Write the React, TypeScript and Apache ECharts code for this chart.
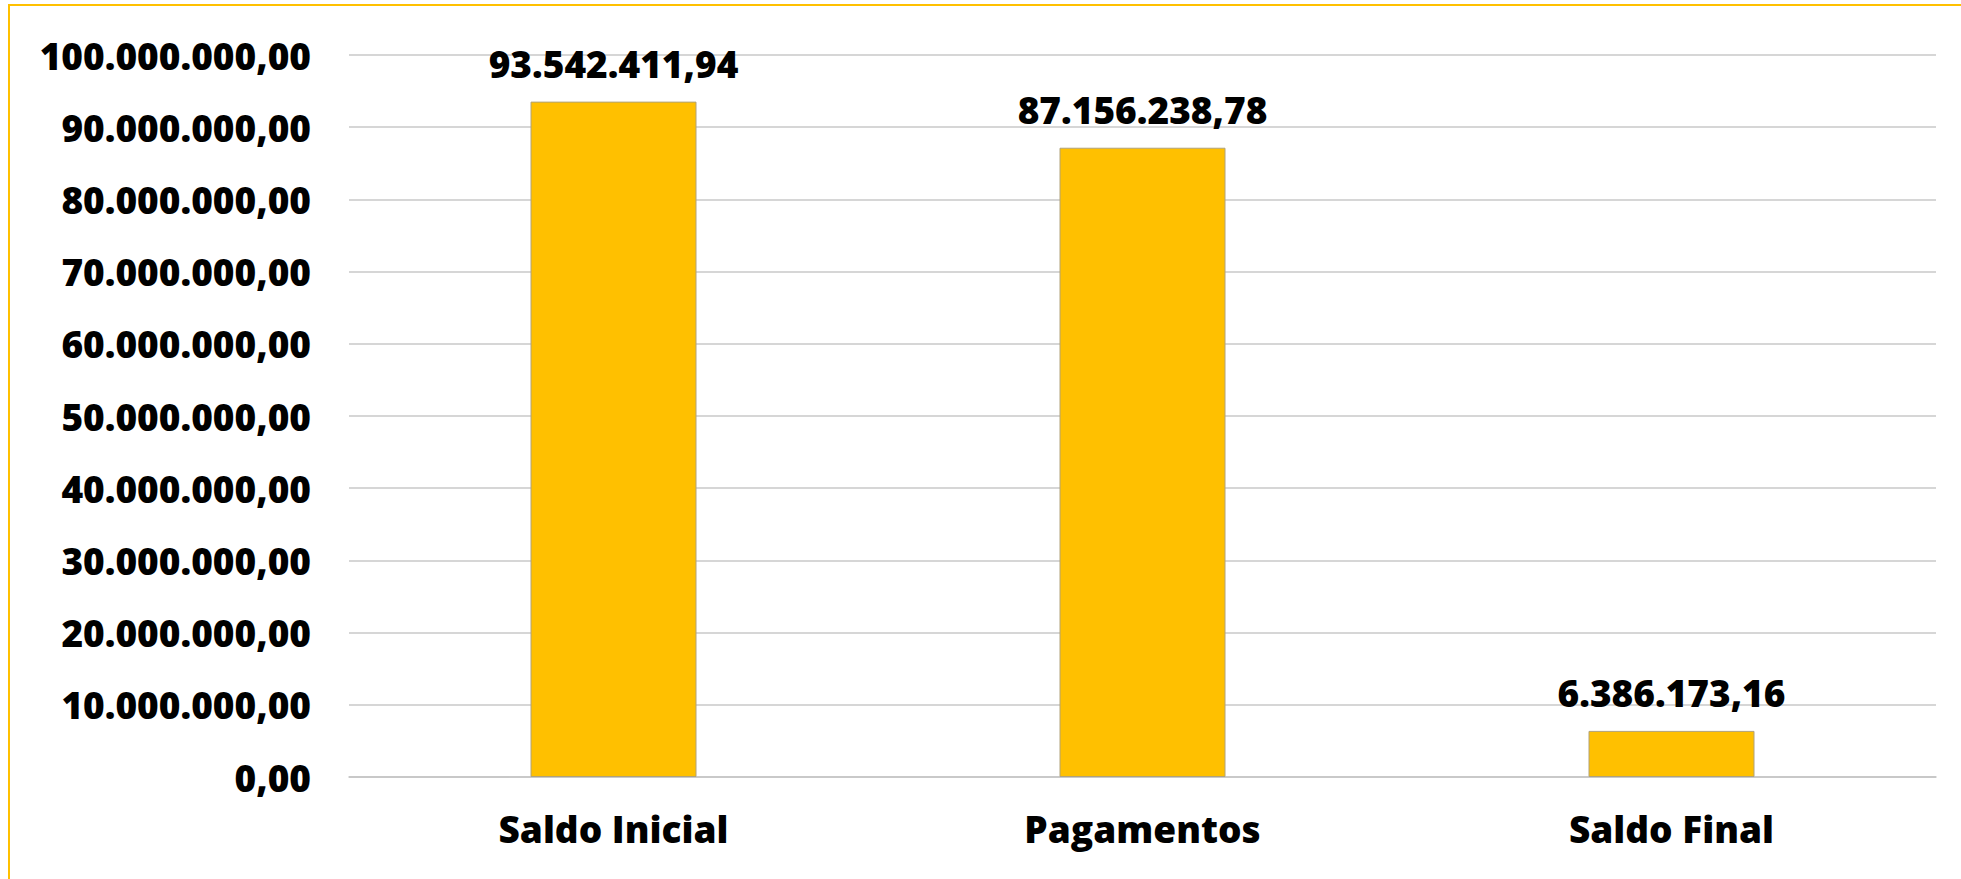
import React, { useEffect, useRef } from "react";
import * as echarts from "echarts";

const categories = ["Saldo Inicial", "Pagamentos", "Saldo Final"];
const values = [93542411.94, 87156238.78, 6386173.16];
const yTicks = { min: 0, max: 100000000, interval: 10000000 };

function fmtBR(v: number): string {
  const neg = v < 0;
  const s = Math.abs(v).toFixed(2);
  const [intPart, dec] = s.split(".");
  const withDots = intPart.replace(/\B(?=(\d{3})+(?!\d))/g, ".");
  return (neg ? "-" : "") + withDots + "," + dec;
}

const FONT = "'Open Sans', 'Noto Sans', sans-serif";
const WEIGHT = 800;
const SIZE = 37;

export default function App() {
  const ref = useRef<HTMLDivElement>(null);
  useEffect(() => {
    if (!ref.current) return;
    const chart = echarts.init(ref.current, null, { renderer: "svg" });
    chart.setOption({
      animation: false,
      backgroundColor: "#ffffff",
      grid: { left: 349, right: 25, top: 55, bottom: 102, containLabel: false },
      xAxis: {
        type: "category",
        data: categories,
        axisLine: { show: true, lineStyle: { color: "#c4c4c4", width: 1.5 } },
        axisTick: { show: false },
        axisLabel: {
          color: "#000",
          fontFamily: FONT,
          fontWeight: WEIGHT,
          fontSize: SIZE,
          margin: 33,
        },
      },
      yAxis: {
        type: "value",
        min: yTicks.min,
        max: yTicks.max,
        interval: yTicks.interval,
        axisLine: { show: false },
        axisTick: { show: false },
        splitLine: { lineStyle: { color: "#c8c8c8", width: 1.5 } },
        axisLabel: {
          color: "#000",
          fontFamily: FONT,
          fontWeight: WEIGHT,
          fontSize: SIZE,
          margin: 38,
          padding: [0, 0, 8, 0],
          formatter: (v: number) => fmtBR(v),
        },
      },
      series: [
        {
          type: "bar",
          data: values,
          barWidth: 166,
          itemStyle: { color: "#FFC000", borderColor: "#b0a27a", borderWidth: 1 },
          label: {
            show: true,
            position: "top",
            distance: 20,
            color: "#000",
            fontFamily: FONT,
            fontWeight: WEIGHT,
            fontSize: SIZE,
            formatter: (p: any) => fmtBR(p.value),
          },
        },
      ],
      graphic: [
        {
          type: "line",
          shape: { x1: 8, y1: 5, x2: 1961, y2: 5 },
          style: { stroke: "#FFC000", lineWidth: 2 },
          silent: true,
        },
        {
          type: "line",
          shape: { x1: 9, y1: 4, x2: 9, y2: 879 },
          style: { stroke: "#FFC000", lineWidth: 2 },
          silent: true,
        },
      ],
    });
    return () => chart.dispose();
  }, []);
  return (
    <div
      ref={ref}
      style={{ position: "absolute", left: 0, top: 0, width: 1961, height: 879 }}
    />
  );
}
